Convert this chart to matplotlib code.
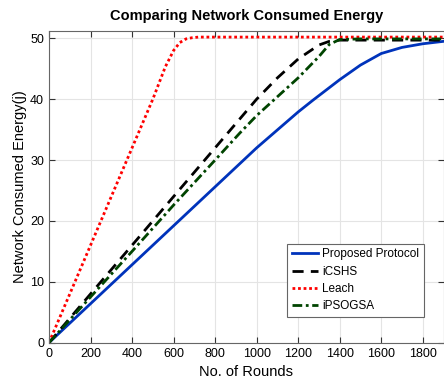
import numpy as np
import matplotlib.pyplot as plt

plt.rcParams['font.family'] = ['Liberation Sans', 'DejaVu Sans']

rounds = [0, 200, 400, 600, 800, 1000, 1200, 1270, 1400, 1500, 1600, 1700, 1800, 1900]
proposed = [0, 6.4, 12.8, 19.2, 25.6, 32.0, 37.9, 39.8, 43.2, 45.6, 47.5, 48.5, 49.1, 49.5]

icshs_x = [0, 200, 400, 600, 800, 1000, 1100, 1200, 1300, 1350, 1400, 1500, 1600, 1700, 1800, 1900]
icshs = [0, 8.0, 16.0, 24.0, 32.0, 40.0, 43.5, 46.6, 48.9, 49.5, 49.7, 49.7, 49.7, 49.7, 49.7, 49.7]

leach_x = [0, 200, 400, 500, 560, 600, 630, 660, 690, 720, 800, 1000, 1400, 1900]
leach = [0, 16.0, 32.0, 40.0, 45.3, 48.0, 49.3, 49.9, 50.1, 50.2, 50.2, 50.2, 50.2, 50.2]

ipso_x = [0, 200, 400, 600, 800, 918, 1000, 1100, 1200, 1300, 1350, 1400, 1500, 1900]
ipso = [0, 7.5, 15.0, 22.6, 30.0, 34.4, 37.3, 40.4, 43.5, 47.0, 49.0, 49.8, 49.9, 49.9]

fig = plt.figure(figsize=(4.44, 3.85), dpi=100)
ax = fig.add_axes([0.1104, 0.110, 0.8885, 0.8095])

ax.plot(rounds, proposed, color='#0033bb', lw=2, label='Proposed Protocol')
ax.plot(icshs_x, icshs, color='black', lw=2, ls=(0, (4, 2.6)), label='iCSHS')
ax.plot(leach_x, leach, color='red', lw=2, ls=(0, (1, 1)), label='Leach')
ax.plot(ipso_x, ipso, color='#004400', lw=2, ls=(0, (3.5, 1.3, 1, 1.3)), label='iPSOGSA')

ax.set_xlim(0, 1900)
ax.set_ylim(0, 51.2)
ax.set_xticks(np.arange(0, 1801, 200))
ax.set_yticks([0, 10, 20, 30, 40, 50])
ax.grid(True, color='#e4e4e4', lw=0.8)
ax.tick_params(direction='in', length=4, labelsize=9, top=True, right=True, color='#333333')
for s in ax.spines.values():
    s.set_color('#666666')

ax.set_title('Comparing Network Consumed Energy', fontsize=10.5, fontweight='bold', pad=8)
ax.set_xlabel('No. of Rounds', fontsize=10.5, labelpad=4)
ax.set_ylabel('Network Consumed Energy(j)', fontsize=10.5, labelpad=2)

leg = ax.legend(loc='lower right', bbox_to_anchor=(0.951, 0.082), fontsize=8.5,
                fancybox=False, edgecolor='#666666', framealpha=1,
                handlelength=2.2, borderpad=0.4, labelspacing=0.45,
                handletextpad=0.4, borderaxespad=0)
leg.get_frame().set_linewidth(0.8)

fig.savefig('out.png', dpi=100)
